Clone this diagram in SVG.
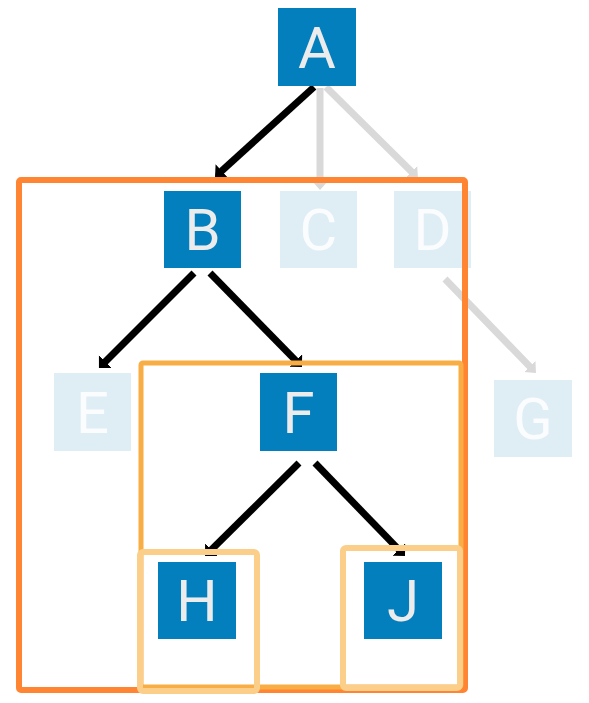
<svg xmlns="http://www.w3.org/2000/svg" width="589" height="703" viewBox="0 0 589 703">
<style>
.on{fill:#037fbe}
.off{fill:#dfedf5}
.lbl{font-family:Roboto,"Liberation Sans",sans-serif;font-size:58px;text-anchor:middle}
.lon{fill:#ececec}
.loff{fill:#fafcfe}
.blk{stroke:#000;stroke-width:7;fill:none}
.gry{stroke:#d9d9d9;stroke-width:7;fill:none}
</style>
<defs>
<marker id="ab" markerUnits="userSpaceOnUse" markerWidth="20" markerHeight="20" refX="4" refY="9" orient="auto"><path d="M0,0 L9,9 L0,18 z" fill="#000"/></marker>
<marker id="ag" markerUnits="userSpaceOnUse" markerWidth="20" markerHeight="20" refX="4" refY="8" orient="auto"><path d="M0,0 L9,8 L0,16 z" fill="#d9d9d9"/></marker>
</defs>
<rect width="589" height="703" fill="#fff"/>
<g id="connectors">
<line class="blk" x1="314" y1="87" x2="218.7" y2="173.6" marker-end="url(#ab)"/>
<line class="gry" x1="320" y1="88" x2="320" y2="185" marker-end="url(#ag)"/>
<line class="gry" x1="326" y1="87" x2="414.4" y2="174.5" marker-end="url(#ag)"/>
<line class="gry" x1="445" y1="279" x2="532.5" y2="369.4" marker-end="url(#ag)"/>
<line class="blk" x1="194" y1="273" x2="102.5" y2="364.5" marker-end="url(#ab)"/>
<line class="blk" x1="210" y1="273" x2="298.5" y2="363.4" marker-end="url(#ab)"/>
<line class="blk" x1="299" y1="463" x2="208.6" y2="552.5" marker-end="url(#ab)"/>
<line class="blk" x1="315" y1="463" x2="401.5" y2="552.4" marker-end="url(#ab)"/>
</g>
<g id="A"><rect class="on" x="278" y="8" width="78" height="78"/><text class="lbl lon" x="317" y="68">A</text></g>
<g id="B"><rect class="on" x="164" y="191" width="77" height="77"/><text class="lbl lon" x="202.5" y="250">B</text></g>
<g id="C"><rect class="off" x="280" y="191" width="77" height="77"/><text class="lbl loff" x="318.5" y="250">C</text></g>
<g id="D"><rect class="off" x="394" y="191" width="77" height="77"/><text class="lbl loff" x="432.5" y="250">D</text></g>
<g id="E"><rect class="off" x="54" y="373" width="77" height="78"/><text class="lbl loff" x="92.5" y="433">E</text></g>
<g id="F"><rect class="on" x="260" y="373" width="77" height="78"/><text class="lbl lon" x="298.5" y="433">F</text></g>
<g id="G"><rect class="off" x="494" y="380" width="78" height="77"/><text class="lbl loff" x="533" y="439">G</text></g>
<g id="H"><rect class="on" x="158" y="562" width="78" height="77"/><text class="lbl lon" x="197" y="621">H</text></g>
<g id="J"><rect class="on" x="364" y="562" width="78" height="77"/><text class="lbl lon" x="403" y="621">J</text></g>
<g id="groups" fill="none">
<rect x="19" y="180" width="446" height="510" rx="2" stroke="#ff8533" stroke-width="6"/>
<rect x="141" y="363" width="320" height="324" rx="2" stroke="#f8ad45" stroke-width="5"/>
<rect x="140" y="552" width="117" height="139" rx="3" stroke="#fbcf8a" stroke-width="6"/>
<rect x="343" y="548" width="117" height="140" rx="3" stroke="#fbcf8a" stroke-width="6"/>
</g>
</svg>
